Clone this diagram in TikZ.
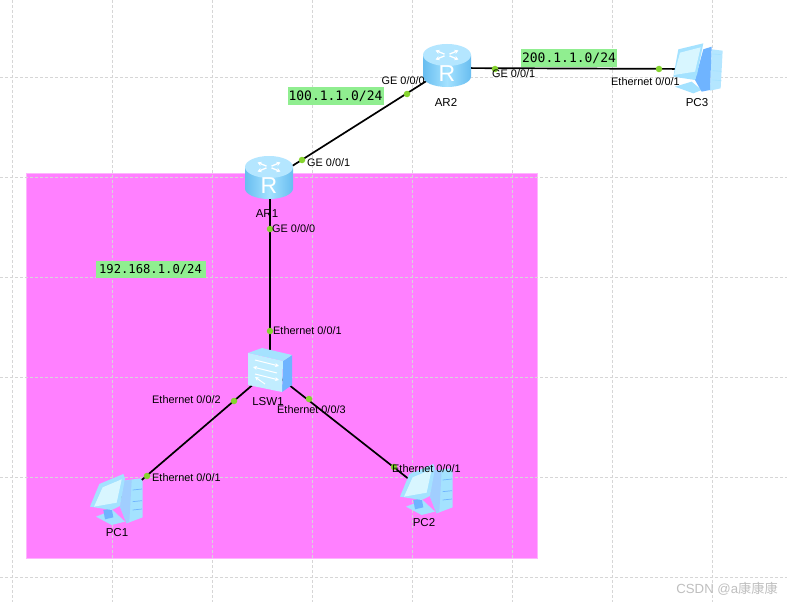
\documentclass[tikz,border=0pt]{standalone}
\usepackage{fontspec}
\setmainfont{Liberation Sans}
\newfontfamily\monof{DejaVu Sans Mono}
\newfontfamily\cjkf{Noto Sans CJK SC}
\usetikzlibrary{arrows.meta}
\definecolor{pinkzone}{HTML}{FF80FF}
\definecolor{pinkedge}{HTML}{FFB4FF}
\definecolor{netgreen}{HTML}{90EE90}
\definecolor{dotgreen}{HTML}{86D42E}
\definecolor{gridgray}{HTML}{D6D6D6}
\definecolor{icontop}{HTML}{B4E6FF}
\definecolor{iconmid}{HTML}{A4E2FF}
\definecolor{iconedge}{HTML}{68BDF0}
\definecolor{iconpale}{HTML}{D8F6FF}
\definecolor{iconblue}{HTML}{6FB4FF}
\tikzset{
  x=1pt,y=-1pt,
  gridline/.style={gridgray,line width=.9pt,dash pattern=on 3pt off 2pt},
  link/.style={black,line width=1.7pt},
  port/.style={circle,fill=dotgreen,minimum size=6.5pt,inner sep=0pt},
  dev/.style={inner sep=0pt,minimum size=0pt},
  iflabel/.style={anchor=west,inner sep=0pt,font=\fontsize{10.9}{12}\selectfont},
  devlabel/.style={inner sep=0pt,font=\fontsize{11.5}{13}\selectfont},
  netbig/.style={fill=netgreen,inner sep=0pt,minimum height=18pt,font=\monof\fontsize{13}{15}\selectfont},
  netsmall/.style={fill=netgreen,inner sep=0pt,minimum height=17.5pt,font=\monof\fontsize{12.2}{15}\selectfont},
  routericon/.pic={
    \path[left color=iconedge,right color=iconedge,middle color=iconmid]
      (-24,-10) -- (-24,11) arc[x radius=24,y radius=10.5,start angle=180,end angle=0] -- (24,-10) -- cycle;
    \fill[icontop] (0,-10.5) ellipse[x radius=24,y radius=11];
    \foreach \a in {35,145,215,325}{
      \draw[white,line width=1.3pt,-{Stealth[length=4pt,width=4.5pt]}]
        ({3*cos(\a)},{-10.5+1.5*sin(\a)}) -- ({14*cos(\a)},{-10.5+8*sin(\a)});
    }
    \node[white,inner sep=0pt,font=\fontsize{23}{23}\selectfont] at (0,8) {R};
  },
  switchicon/.pic={
    \fill[iconblue] (13,-9) -- (22,-15) -- (22,15) -- (12,22) -- cycle;
    \fill[iconmid] (-22,-17) -- (-8,-22) -- (22,-15) -- (13,-9) -- cycle;
    \fill[iconpale!55!iconmid] (-22,-17) -- (13,-9) -- (12,22) -- (-22,15) -- cycle;
    \draw[white,line width=1pt,-{Stealth[length=4pt,width=4pt]}] (-15,-10) -- (9,-4);
    \draw[white,line width=1pt,{Stealth[length=4pt,width=4pt]}-] (-17,-3) -- (7,3);
    \draw[white,line width=1pt,-{Stealth[length=4pt,width=4pt]}] (-15,4) -- (9,10);
    \draw[white,line width=1pt,{Stealth[length=4pt,width=4pt]}-] (-15,7) -- (-5,14);
  },
  pcicon/.pic={
    \begin{scope}[scale=.3333]
      \fill[iconmid] (78,170) -- (128,150) -- (165,185) -- (125,195) -- cycle;
      \fill[iconblue] (100,150) -- (125,145) -- (130,172) -- (105,178) -- cycle;
      \fill[iconmid] (162,62) -- (212,55) -- (218,65) -- (218,172) -- (170,190) -- (150,140) -- cycle;
      \fill[iconblue!65!white] (162,62) -- (185,60) -- (178,185) -- (170,190) -- (150,140) -- cycle;
      \foreach \t in {90,125,150}{\draw[iconblue,line width=.7pt] (188,\t) -- (216,\t-3);}
      \fill[iconmid] (88,72) -- (160,42) -- (165,55) -- (150,138) -- (125,150) -- (60,140) -- cycle;
      \fill[iconpale] (98,82) -- (155,58) -- (140,128) -- (72,140) -- cycle;
    \end{scope}
  },
  pcthreeicon/.pic={
    \begin{scope}[scale=.3333]
      \fill[iconmid] (225,170) -- (275,155) -- (305,180) -- (280,190) -- cycle;
      \fill[icontop] (335,58) -- (368,62) -- (362,175) -- (330,182) -- cycle;
      \foreach \t in {72,122,150}{\draw[iconmid,line width=.6pt] (338,\t) -- (364,\t+2);}
      \fill[iconblue] (310,58) -- (335,50) -- (330,180) -- (305,185) -- (285,150) -- cycle;
      \fill[iconmid] (235,58) -- (310,40) -- (292,130) -- (285,150) -- (220,140) -- cycle;
      \fill[iconpale] (240,68) -- (302,52) -- (285,125) -- (222,135) -- cycle;
    \end{scope}
  },
}
\begin{document}
\begin{tikzpicture}
\useasboundingbox (0,0) rectangle (787,602);
\fill[white] (0,0) rectangle (787,602);
% zone
\path[fill=pinkzone,draw=pinkedge,line width=1pt] (26.5,173.5) rectangle (537.5,558);
% grid
\foreach \gx in {12.5,112.5,212.5,312.5,412.5,512.5,612.5,712.5}{\draw[gridline] (\gx,0) -- (\gx,602);}
\foreach \gy in {77.5,177.5,277.5,377.5,477.5,577.5}{\draw[gridline] (0,\gy) -- (787,\gy);}
% device anchors
\node[dev] (AR1) at (270,180) {};
\node[dev] (AR2) at (447,68) {};
\node[dev] (LSW1) at (270,370) {};
\node[dev] (PC1) at (116,502) {};
\node[dev] (PC2) at (424,491) {};
\node[dev] (PC3) at (697,69) {};
% links
\draw[link] (AR1.center) -- (AR2.center);
\draw[link] (AR2.center) -- (PC3.center);
\draw[link] (AR1.center) -- (LSW1.center);
\draw[link] (LSW1.center) -- (PC1.center);
\draw[link] (LSW1.center) -- (PC2.center);
% icons
\pic at (269,177.5) {routericon};
\pic at (447,65.5) {routericon};
\pic at (270,370) {switchicon};
\pic at (70,460) {pcicon};
\pic at (380,450) {pcicon};
\pic at (600,30) {pcthreeicon};
% ports
\node[port] (p1) at (302,160) {};
\node[port] (p2) at (407,94) {};
\node[port] (p3) at (495,69) {};
\node[port] (p4) at (659,69) {};
\node[port] (p5) at (270,229) {};
\node[port] (p6) at (270,331) {};
\node[port] (p7) at (234,401) {};
\node[port] (p8) at (309,399) {};
\node[port] (p9) at (147,476) {};
\node[port] (p10) at (394,467) {};
% interface labels
\node[iflabel] (l1) at (307,163) {GE 0/0/1};
\node[iflabel] (l2) at (381.5,81) {GE 0/0/0};
\node[iflabel] (l3) at (492,74) {GE 0/0/1};
\node[iflabel] (l4) at (611,82) {Ethernet 0/0/1};
\node[iflabel] (l5) at (272,229) {GE 0/0/0};
\node[iflabel] (l6) at (273,331) {Ethernet 0/0/1};
\node[iflabel] (l7) at (152,400) {Ethernet 0/0/2};
\node[iflabel] (l8) at (277,410) {Ethernet 0/0/3};
\node[iflabel] (l9) at (152,478) {Ethernet 0/0/1};
\node[iflabel] (l10) at (392,469) {Ethernet 0/0/1};
% device labels
\node[devlabel] (n1) at (267,214) {AR1};
\node[devlabel] (n2) at (446,102) {AR2};
\node[devlabel] (n3) at (697,103) {PC3};
\node[devlabel] (n4) at (268,402) {LSW1};
\node[devlabel] (n5) at (117,533) {PC1};
\node[devlabel] (n6) at (424,523) {PC2};
% networks
\node[netbig,minimum width=96pt] (net1) at (335.5,96) {100.1.1.0/24};
\node[netbig,minimum width=96pt] (net2) at (569,58) {200.1.1.0/24};
\node[netsmall,minimum width=110pt] (net3) at (150.5,269.7) {192.168.1.0/24};
% watermark
\node[anchor=east,inner sep=0pt,text=black!25,font=\fontsize{13.2}{15}\selectfont] (wm) at (778,589) {CSDN @a{\cjkf 康康康}};
\end{tikzpicture}
\end{document}
